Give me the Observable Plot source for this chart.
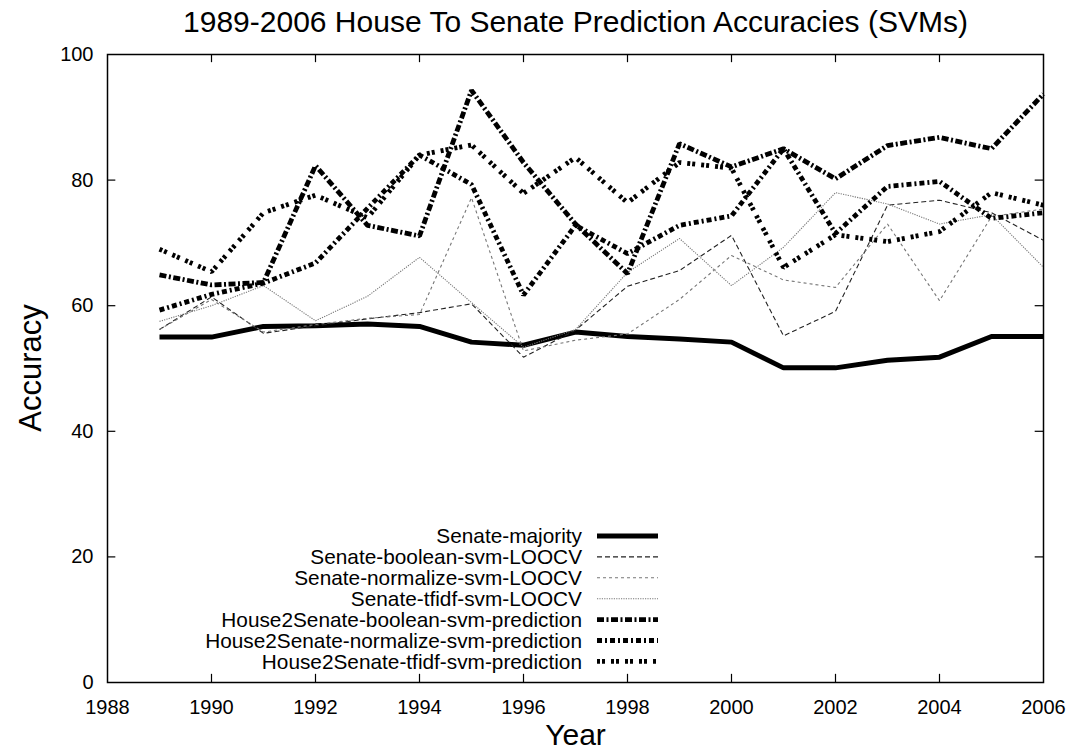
<!DOCTYPE html>
<html><head><meta charset="utf-8">
<script src="https://cdn.jsdelivr.net/npm/d3@7"></script>
<script src="https://cdn.jsdelivr.net/npm/@observablehq/plot@0.6"></script>
<style>html,body{margin:0;padding:0;background:#fff;}</style>
</head><body><div id="chart"></div>
<script>
const years = [1989,1990,1991,1992,1993,1994,1995,1996,1997,1998,1999,2000,2001,2002,2003,2004,2005,2006];
const senateMajority = [55,55,56.7,56.8,57.1,56.7,54.2,53.7,55.8,55.1,54.7,54.2,50.1,50.1,51.3,51.8,55.1,55.1];
const senateBoolean  = [56.2,61.4,55.6,56.8,57.9,58.9,60.3,51.8,56.1,63.1,65.6,71.2,55.2,59.1,76,76.8,74.8,70.4];
const senateNormalize= [56.2,61,55.8,57,58,58.6,77.2,52.8,54.5,55.5,61,68,64.1,62.9,73,60.8,74.2,75.4];
const senateTfidf    = [57.5,60,63.2,57.6,61.5,67.7,60.5,53.4,56.2,65.3,70.7,63.2,69.3,78,76.2,73,74.5,66.1];
const h2sBoolean     = [64.9,63.3,63.7,82.3,72.8,71.1,94.3,82.8,73,65.1,85.8,82.1,85,80.2,85.5,86.8,85,93.7];
const h2sNormalize   = [59.3,61.8,63.6,66.8,75.5,84,79.3,61.7,72.8,68.3,72.8,74.3,85,71.5,79,79.8,73.9,74.8];
const h2sTfidf       = [69,65.4,74.8,77.6,74,84,85.6,77.9,83.6,76.4,82.8,81.9,66.1,71.3,70.2,71.8,78,76];
const seriesNames = ["Senate-majority","Senate-boolean-svm-LOOCV","Senate-normalize-svm-LOOCV","Senate-tfidf-svm-LOOCV","House2Senate-boolean-svm-prediction","House2Senate-normalize-svm-prediction","House2Senate-tfidf-svm-prediction"];
const seriesValues = [senateMajority,senateBoolean,senateNormalize,senateTfidf,h2sBoolean,h2sNormalize,h2sTfidf];
const yTicks = [0,20,40,60,80,100];
const xTicks = [1988,1990,1992,1994,1996,1998,2000,2002,2004,2006];
const titleText = "1989-2006 House To Senate Prediction Accuracies (SVMs)";
const xLabel = "Year";
const yLabel = "Accuracy";

// styles per series (same order as seriesNames)
const styles = [
  {stroke:"#000", width:5, dash:null},
  {stroke:"#222", width:1.1, dash:"5,3"},
  {stroke:"#777", width:1.1, dash:"3,3"},
  {stroke:"#777", width:1.1, dash:"1.2,1.2"},
  {stroke:"#000", width:4.8, dash:"7,2.5,2,2.5"},
  {stroke:"#000", width:4.8, dash:"5,3,2,3"},
  {stroke:"#000", width:4.8, dash:"3,2,3,6"}
];

const rows = seriesNames.flatMap((name,i)=>years.map((yr,j)=>({series:name, year:yr, acc:seriesValues[i][j]})));

const W=1072, H=754, mL=107, mR=29, mT=54, mB=72;
const FONT = "'Liberation Sans', Arial, sans-serif";
const marks = [
  Plot.axisX({ticks:xTicks, tickSize:0, tickPadding:17, fontSize:20, label:null, tickFormat:d=>String(d)}),
  Plot.axisY({ticks:yTicks, tickSize:0, tickPadding:14, fontSize:20, label:null}),
  Plot.ruleY(yTicks.slice(1,-1), {x1:1988, x2:1988.16, stroke:"#000", strokeWidth:1.2}),
  Plot.ruleY(yTicks.slice(1,-1), {x1:2005.84, x2:2006, stroke:"#000", strokeWidth:1.2}),
  Plot.ruleX(xTicks.slice(1,-1), {y1:0, y2:1.3, stroke:"#000", strokeWidth:1.2}),
  Plot.ruleX(xTicks.slice(1,-1), {y1:98.7, y2:100, stroke:"#000", strokeWidth:1.2}),
];
seriesNames.forEach((name,i)=>{
  const s = styles[i];
  marks.push(Plot.line(rows.filter(r=>r.series===name), {x:"year", y:"acc", stroke:s.stroke, strokeWidth:s.width, strokeDasharray:s.dash, strokeLinecap:"butt", strokeLinejoin:"miter"}));
});
marks.push(Plot.frame({stroke:"#000", strokeWidth:1.5}));
marks.push(Plot.text([titleText], {frameAnchor:"top", lineAnchor:"middle", dy:-32, fontSize:30, fill:"#000"}));
marks.push(Plot.text([xLabel], {frameAnchor:"bottom", lineAnchor:"middle", dy:53, fontSize:30, fill:"#000"}));

const chart = Plot.plot({
  width:W, height:H, marginLeft:mL, marginRight:mR, marginTop:mT, marginBottom:mB,
  style:{fontFamily:FONT, fontSize:"20px", color:"#000", background:"#fff"},
  x:{domain:[1988,2006]},
  y:{domain:[0,100]},
  marks
});
document.getElementById("chart").appendChild(chart);

const svg = d3.select(chart);
// y axis title
svg.append("text").attr("transform",`translate(30,${(mT + H - mB)/2}) rotate(-90)`)
  .attr("text-anchor","middle").attr("dy","0.35em").attr("font-family",FONT).attr("font-size",31).attr("fill","#000").text(yLabel);

// legend (inside plot area, bottom)
const lg = svg.append("g").attr("font-family",FONT).attr("font-size",20.8);
seriesNames.forEach((name,i)=>{
  const y = 536 + i*20.9;
  const s = styles[i];
  lg.append("text").attr("x",582).attr("y",y).attr("dy","0.35em").attr("text-anchor","end").attr("fill","#000").text(name);
  lg.append("line").attr("x1",597).attr("x2",658).attr("y1",y).attr("y2",y)
    .attr("stroke",s.stroke).attr("stroke-width",s.width).attr("stroke-dasharray",s.dash||null);
});
</script>
</body></html>
